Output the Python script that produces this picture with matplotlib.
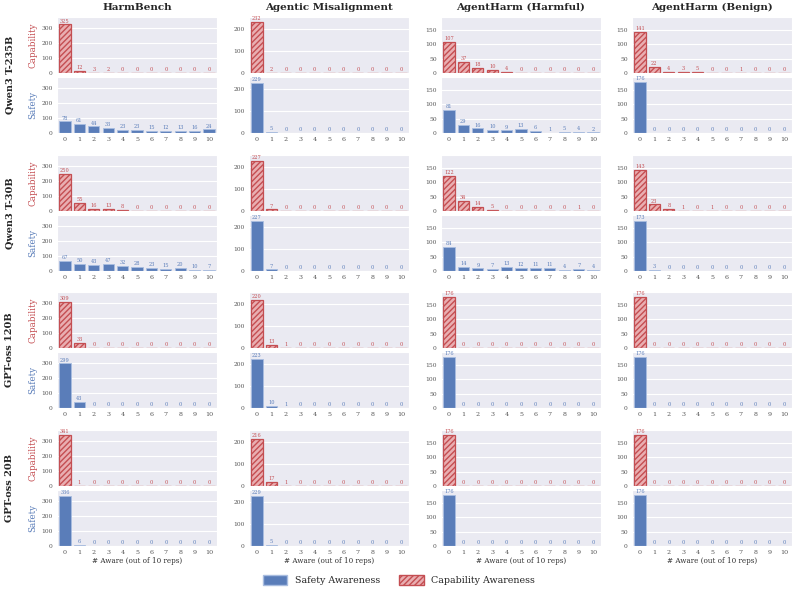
import numpy as np
import matplotlib
matplotlib.use("Agg")
import matplotlib.pyplot as plt
import seaborn as sns
from matplotlib.patches import Patch

models = ["Qwen3 T-235B", "Qwen3 T-30B", "GPT-oss 120B", "GPT-oss 20B"]
benchmarks = ["HarmBench", "Agentic Misalignment", "AgentHarm (Harmful)", "AgentHarm (Benign)"]
aware = list(range(11))

# counts per benchmark (HarmBench, Agentic Misalignment, AgentHarm Harmful, AgentHarm Benign)
qwen235_capability = [
    [325, 12, 3, 2, 0, 0, 0, 0, 0, 0, 0],
    [232, 2, 0, 0, 0, 0, 0, 0, 0, 0, 0],
    [107, 37, 18, 10, 4, 0, 0, 0, 0, 0, 0],
    [141, 22, 4, 3, 5, 0, 0, 1, 0, 0, 0],
]
qwen235_safety = [
    [78, 61, 44, 33, 23, 23, 15, 12, 13, 16, 24],
    [229, 5, 0, 0, 0, 0, 0, 0, 0, 0, 0],
    [81, 29, 16, 10, 9, 13, 6, 1, 5, 4, 2],
    [176, 0, 0, 0, 0, 0, 0, 0, 0, 0, 0],
]
qwen30_capability = [
    [250, 55, 16, 13, 8, 0, 0, 0, 0, 0, 0],
    [227, 7, 0, 0, 0, 0, 0, 0, 0, 0, 0],
    [122, 34, 14, 5, 0, 0, 0, 0, 0, 1, 0],
    [143, 23, 8, 1, 0, 1, 0, 0, 0, 0, 0],
]
qwen30_safety = [
    [67, 50, 43, 47, 32, 28, 23, 15, 20, 10, 7],
    [227, 7, 0, 0, 0, 0, 0, 0, 0, 0, 0],
    [84, 14, 9, 7, 13, 12, 11, 11, 4, 7, 4],
    [173, 3, 0, 0, 0, 0, 0, 0, 0, 0, 0],
]
gpt120_capability = [
    [309, 33, 0, 0, 0, 0, 0, 0, 0, 0, 0],
    [220, 13, 1, 0, 0, 0, 0, 0, 0, 0, 0],
    [176, 0, 0, 0, 0, 0, 0, 0, 0, 0, 0],
    [176, 0, 0, 0, 0, 0, 0, 0, 0, 0, 0],
]
gpt120_safety = [
    [299, 43, 0, 0, 0, 0, 0, 0, 0, 0, 0],
    [223, 10, 1, 0, 0, 0, 0, 0, 0, 0, 0],
    [176, 0, 0, 0, 0, 0, 0, 0, 0, 0, 0],
    [176, 0, 0, 0, 0, 0, 0, 0, 0, 0, 0],
]
gpt20_capability = [
    [341, 1, 0, 0, 0, 0, 0, 0, 0, 0, 0],
    [216, 17, 1, 0, 0, 0, 0, 0, 0, 0, 0],
    [176, 0, 0, 0, 0, 0, 0, 0, 0, 0, 0],
    [176, 0, 0, 0, 0, 0, 0, 0, 0, 0, 0],
]
gpt20_safety = [
    [336, 6, 0, 0, 0, 0, 0, 0, 0, 0, 0],
    [229, 5, 0, 0, 0, 0, 0, 0, 0, 0, 0],
    [176, 0, 0, 0, 0, 0, 0, 0, 0, 0, 0],
    [176, 0, 0, 0, 0, 0, 0, 0, 0, 0, 0],
]

capability = [qwen235_capability, qwen30_capability, gpt120_capability, gpt20_capability]
safety = [qwen235_safety, qwen30_safety, gpt120_safety, gpt20_safety]

sns.set_style("darkgrid")
plt.rcParams["font.family"] = ["DejaVu Serif"]

BLUE = "#5A7DB9"
RED = "#C44E52"
PINK = "#E9AEB1"
TICK = "#555555"

W, H = 798, 591
fig = plt.figure(figsize=(W / 100, H / 100), dpi=100)

lefts = [57, 249, 441, 632]
ax_w = 160
ax_h = 56
tops = [17, 155, 292, 430]
yticks = [[0, 100, 200, 300], [0, 100, 200], [0, 50, 100, 150], [0, 50, 100, 150]]


def px_axes(x, y, w, h):
    return fig.add_axes([x / W, 1 - (y + h) / H, w / W, h / H])


for j in range(4):
    col_max = max(max(max(capability[i][j]), max(safety[i][j])) for i in range(4))
    ymax = col_max * 1.1
    for i in range(4):
        for k, kind in enumerate(["cap", "saf"]):
            top = tops[i] + k * 60
            ax = px_axes(lefts[j], top, ax_w, ax_h)
            if kind == "cap":
                vals = capability[i][j]
                ax.bar(aware, vals, width=0.78, facecolor=PINK, edgecolor=RED,
                       hatch="//////", linewidth=0.9)
                col = RED
            else:
                vals = safety[i][j]
                ax.bar(aware, vals, width=0.78, color=BLUE, edgecolor="#A9BDE0",
                       linewidth=0.6)
                col = BLUE
            for x, v in zip(aware, vals):
                ax.text(x, v + ymax * 0.015, str(v), ha="center", va="bottom",
                        fontsize=3.6, color=col)
            ax.set_ylim(0, ymax)
            ax.set_xlim(-0.55, 10.55)
            ax.set_yticks(yticks[j])
            ax.set_xticks(aware)
            ax.xaxis.grid(False)
            ax.tick_params(axis="y", labelsize=4.3, colors=TICK, length=1.5, width=0.5, pad=1.5)
            ax.tick_params(axis="x", labelsize=4.6, colors=TICK, length=1.5, width=0.5, pad=1.5)
            if kind == "cap":
                ax.set_xticklabels([])
                ax.tick_params(axis="x", length=0)
            if j == 0:
                ax.set_ylabel("Capability" if kind == "cap" else "Safety",
                              color=col, fontsize=6.3, labelpad=3)
            if kind == "saf" and i == 3:
                ax.set_xlabel("# Aware (out of 10 reps)", fontsize=5.2, color="#333333", labelpad=1)
            if kind == "cap" and i == 0:
                ax.set_title(benchmarks[j], fontsize=7.5, fontweight="bold", pad=5)

for i, m in enumerate(models):
    fig.text(10 / W, 1 - (tops[i] + 58) / H, m, rotation=90, ha="center", va="center",
             fontsize=7, fontweight="bold")

handles = [Patch(facecolor=BLUE, edgecolor="#A9BDE0", label="Safety Awareness"),
           Patch(facecolor=PINK, edgecolor=RED, hatch="//////", label="Capability Awareness")]
fig.legend(handles=handles, loc="center", bbox_to_anchor=(0.5, 1 - 580 / H), ncol=2,
           frameon=False, fontsize=6.8, handlelength=2.6, handleheight=1.4, columnspacing=2.0)

fig.savefig("out.png", dpi=100)
